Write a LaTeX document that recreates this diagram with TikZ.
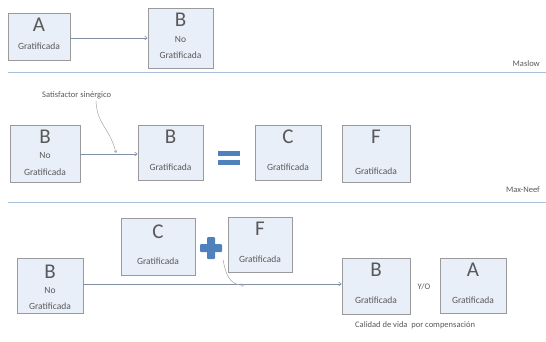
\documentclass[tikz,border=0pt]{standalone}
\usepackage{fontspec}
\setmainfont{Carlito}
\usetikzlibrary{arrows.meta,shadows}
\definecolor{boxfill}{HTML}{E9EFF9}
\definecolor{boxdraw}{HTML}{9A9A9A}
\definecolor{txt}{HTML}{595959}
\definecolor{sep}{HTML}{A9C0DA}
\definecolor{conn}{HTML}{7E8FA6}
\definecolor{opblue}{HTML}{4F81BD}
\tikzset{
  x=1pt,y=-1pt,
  card/.style={draw=boxdraw,fill=boxfill,line width=0.8pt,minimum width=#1,inner sep=0pt,
     drop shadow={shadow xshift=1pt,shadow yshift=-1pt,opacity=0.25}},
  card/.default=64pt,
  big/.style={font=\fontsize{21}{21}\selectfont,text=txt},
  small/.style={font=\fontsize{9.5}{10}\selectfont,text=txt},
  sepline/.style={draw=sep,line width=1pt},
  connector/.style={draw=conn,line width=0.6pt,-{Straight Barb[length=2.5pt,width=4pt]}},
  callout/.style={draw=black!35,line width=0.5pt},
  lbl/.style={font=\fontsize{8.5}{9}\selectfont,text=txt,inner sep=0pt},
}
\begin{document}
\begin{tikzpicture}
\useasboundingbox (0,0) rectangle (546,341);
% ---- Maslow ----
\node[card=62pt,minimum height=47pt,align=center] (a1) at (39,36.5) {};
\node[big] at (39,25) {A};
\node[small] at (39,46) {Gratificada};
\node[card=65pt,minimum height=60pt] (b1) at (180.5,38) {};
\node[big] at (180.5,20) {B};
\node[small] at (180.5,39) {No};
\node[small] at (180.5,55) {Gratificada};
\draw[connector] (a1.east |- 0,38) -- (b1.west |- 0,38);
\draw[sepline] (8,72) -- (546,72);
\node[lbl,anchor=east] (maslow) at (540,64) {Maslow};
% ---- Max-Neef ----
\node[card=70pt,minimum height=57pt] (b2n) at (45,153.5) {};
\node[big] at (45,137) {B};
\node[small] at (45,155) {No};
\node[small] at (45,172) {Gratificada};
\node[card=65pt,minimum height=55pt] (b2g) at (170.5,152.5) {};
\node[big] at (170.5,137) {B};
\node[small] at (170.5,167) {Gratificada};
\node[minimum width=22pt,minimum height=14pt,inner sep=0pt] (eq) at (229,158) {};
\fill[opblue] (218,151) rectangle (240,156);
\fill[opblue] (218,160) rectangle (240,165);
\node[card=66pt,minimum height=55pt] (c2) at (288,152.5) {};
\node[big] at (288,137) {C};
\node[small] at (288,167) {Gratificada};
\node[card=68pt,minimum height=57pt] (f2) at (376,153.5) {};
\node[big] at (376,137) {F};
\node[small] at (376,171) {Gratificada};
\draw[connector] (b2n.east |- 0,154) -- (b2g.west |- 0,154);
\node[lbl,anchor=west] (sat) at (42,95) {Satisfactor sinérgico};
\coordinate (sattip) at (116,153);
\draw[callout,-{Straight Barb[length=2pt,width=3pt]}] (96,101) .. controls (97,125) and (110,128) .. (sattip);
\draw[sepline] (8,202) -- (546,202);
\node[lbl,anchor=east] (maxneef) at (540,190) {Max-Neef};
% ---- Calidad de vida ----
\node[card=74pt,minimum height=57pt] (c3) at (158,246.5) {};
\node[big] at (158,232) {C};
\node[small] at (158,261) {Gratificada};
\node[minimum size=24pt,inner sep=0pt] (plus) at (211,248) {};
\fill[opblue,rounded corners=1pt] (207,237) rectangle (215,259);
\fill[opblue,rounded corners=1pt] (200,244) rectangle (222,252);
\node[card=64pt,minimum height=55pt] (f3) at (260,244.5) {};
\node[big] at (260,229) {F};
\node[small] at (260,259) {Gratificada};
\node[card=66pt,minimum height=55pt] (b3n) at (50,285.5) {};
\node[big] at (50,272) {B};
\node[small] at (50,290) {No};
\node[small] at (50,306) {Gratificada};
\node[card=68pt,minimum height=56pt] (b3g) at (376,286) {};
\node[big] at (376,270) {B};
\node[small] at (376,300) {Gratificada};
\node[lbl] (yo) at (424,287) {Y/O};
\node[card=66pt,minimum height=55pt] (a3) at (473,285.5) {};
\node[big] at (473,270) {A};
\node[small] at (473,300) {Gratificada};
\draw[connector] (b3n.east |- 0,284) -- (b3g.west |- 0,284);
\coordinate (pltip) at (244,285);
\draw[callout,-{Straight Barb[length=2pt,width=3pt]}] (plus.south east) .. controls (225,270) and (228,286) .. (pltip);
\node[lbl,anchor=west] (cal) at (355,325) {Calidad de vida\ \ por compensación};
\end{tikzpicture}
\end{document}
